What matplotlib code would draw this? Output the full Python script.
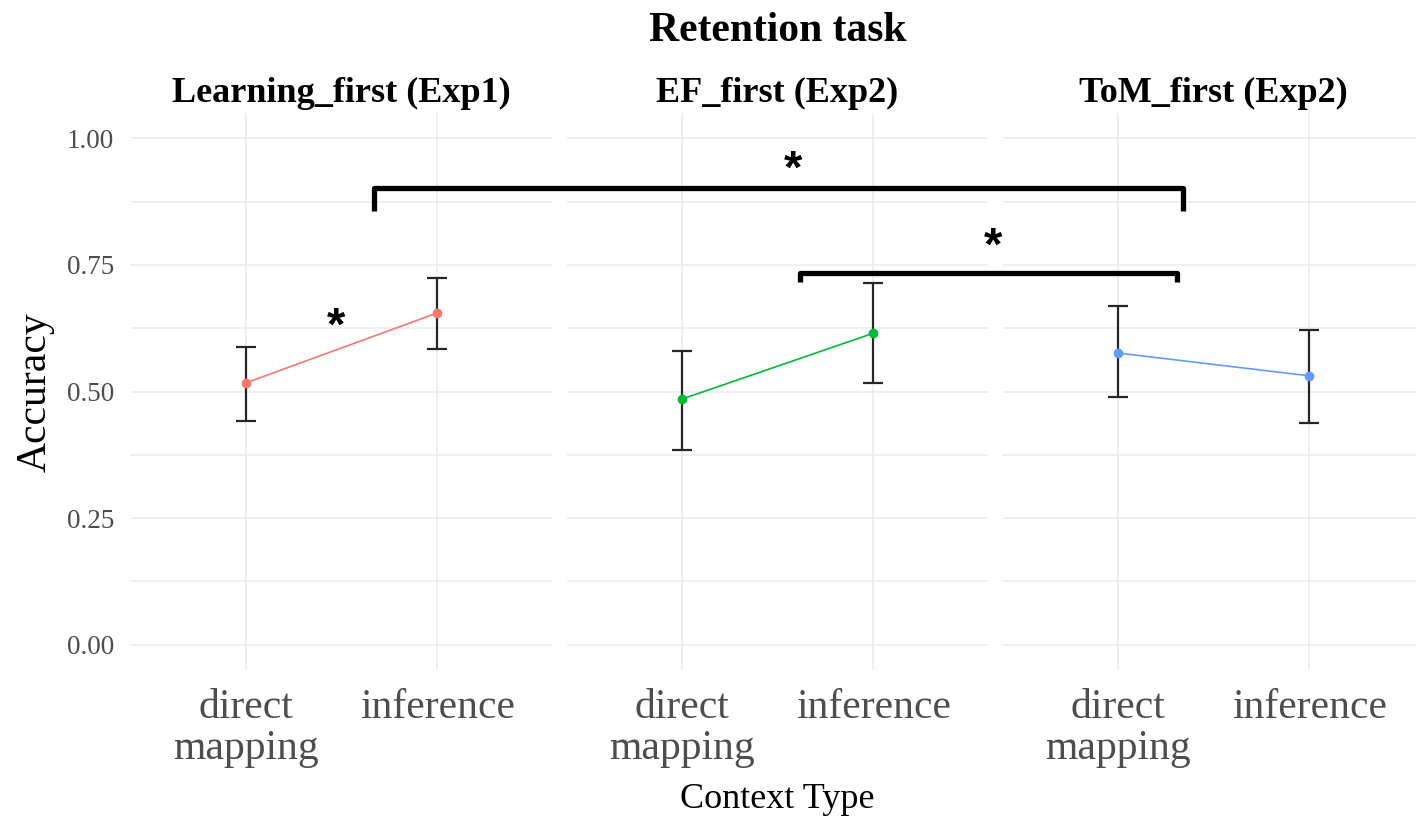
import matplotlib
matplotlib.use("Agg")
import matplotlib.pyplot as plt
from matplotlib.lines import Line2D

# Data
panels = ["Learning_first (Exp1)", "EF_first (Exp2)", "ToM_first (Exp2)"]
contexts = ["direct\nmapping", "inference"]
colors = ["#F8766D", "#00BA38", "#619CFF"]
means = [[0.517, 0.655], [0.485, 0.615], [0.576, 0.531]]
lower = [[0.442, 0.584], [0.385, 0.517], [0.489, 0.438]]
upper = [[0.588, 0.724], [0.580, 0.714], [0.669, 0.621]]
y_ticks = [0.00, 0.25, 0.50, 0.75, 1.00]
y_minor = [0.125, 0.375, 0.625, 0.875]

# significance brackets: (panel_from, x_from, panel_to, x_to, y_top, y_leg)
brackets = [(0, 1.67, 2, 1.34, 0.901, 0.856),
            (1, 1.62, 2, 1.31, 0.734, 0.716)]
# stars: (panel, x, y)
stars = [(1, 1.58, 0.937), (2, 0.35, 0.783), (0, 1.47, 0.625)]

SERIF = "Liberation Serif"
GRID = "#EBEBEB"
TXT = "#4D4D4D"

fig = plt.figure(figsize=(14.16, 8.18), dpi=100)
W, H = 1416, 818
left_px = [131, 567, 1003]
pw = 421
top_px, bot_px = 113, 670

axes = []
for i, name in enumerate(panels):
    ax = fig.add_axes([left_px[i] / W, 1 - bot_px / H, pw / W, (bot_px - top_px) / H])
    axes.append(ax)
    x = [1, 2]
    ax.set_xlim(0.4, 2.6)
    ax.set_ylim(-0.05, 1.05)
    ax.set_yticks(y_ticks)
    ax.set_yticks(y_minor, minor=True)
    ax.set_xticks(x)
    ax.grid(True, which="major", color=GRID, lw=1.1)
    ax.grid(True, which="minor", axis="y", color=GRID, lw=1.1)
    ax.set_axisbelow(True)
    for s in ax.spines.values():
        s.set_visible(False)
    ax.tick_params(which="both", length=0)
    ax.set_xticklabels(contexts, fontfamily=SERIF, fontsize=30, color=TXT, linespacing=1.1)
    ax.tick_params(axis="x", pad=13)
    if i == 0:
        ax.set_yticklabels([f"{v:.2f}" for v in y_ticks], fontfamily=SERIF, fontsize=19.5, color=TXT)
        ax.tick_params(axis="y", pad=12)
    else:
        ax.set_yticklabels([])
    yerr = [[m - l for m, l in zip(means[i], lower[i])],
            [u - m for m, u in zip(means[i], upper[i])]]
    ax.errorbar(x, means[i], yerr=yerr, fmt="none", ecolor="#262626",
                elinewidth=1.6, capsize=7.5, capthick=1.6, zorder=2)
    ax.plot(x, means[i], color=colors[i], lw=1.2, marker="o", ms=6, zorder=3)
    ax.set_title(name, fontfamily=SERIF, fontweight="bold", fontsize=26, pad=8)

fig.text(778 / W, 1 - 31 / H, "Retention task", ha="center", va="center",
         fontfamily=SERIF, fontweight="bold", fontsize=30)
fig.text(777 / W, 1 - 800 / H, "Context Type", ha="center", va="center",
         fontfamily=SERIF, fontsize=26)
fig.text(35 / W, 1 - 392 / H, "Accuracy", ha="center", va="center", rotation=90,
         fontfamily=SERIF, fontsize=30)


def to_fig(panel, x, y):
    px = axes[panel].transData.transform((x, y))
    return fig.transFigure.inverted().transform(px)


for p0, x0, p1, x1, yt, yl in brackets:
    a = to_fig(p0, x0, yl)
    b = to_fig(p0, x0, yt)
    c = to_fig(p1, x1, yt)
    d = to_fig(p1, x1, yl)
    fig.add_artist(Line2D([a[0], b[0], c[0], d[0]], [a[1], b[1], c[1], d[1]],
                          transform=fig.transFigure, color="black", lw=3.8,
                          solid_joinstyle="round", solid_capstyle="butt"))

for p, x, y in stars:
    pos = to_fig(p, x, y)
    fig.text(pos[0], pos[1], "*", ha="center", va="center",
             fontfamily="Liberation Sans", fontweight="bold", fontsize=34)

fig.savefig("out.png", dpi=100, facecolor="white")
